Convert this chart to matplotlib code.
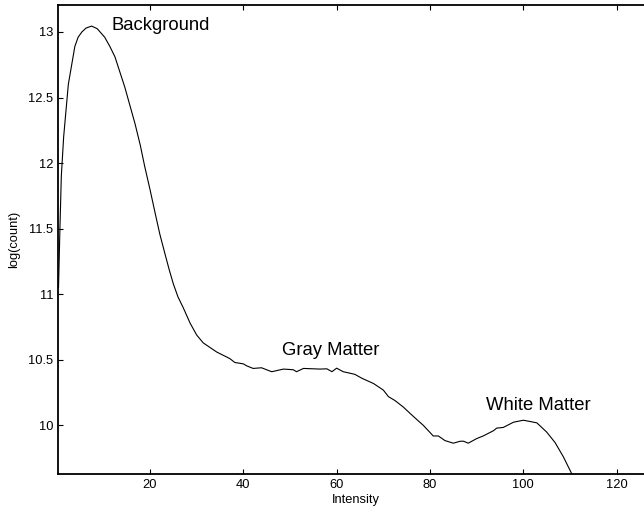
'''
Log intensity histogram of a brain MR image with tissue class labels
'''
import matplotlib
matplotlib.use("Agg")
import matplotlib.pyplot as plt
from matplotlib.ticker import FuncFormatter

# intensity values
intensity = [0.4, 0.7, 1.0, 1.5, 2.5, 3.9, 4.6, 5.4, 6.3, 7.5, 8.7, 10.3,
             11.4, 12.5, 13.5, 14.6, 15.7, 16.8, 17.9, 18.9, 20.0, 21.1, 22.1,
             23.2, 24.1, 25.0, 26.0, 27.1, 28.6, 30.0, 31.4, 34.3, 37.1, 38.2,
             40.0, 40.7, 42.1, 43.9, 45.7, 46.1, 48.6, 50.7, 51.4, 52.9, 56.4,
             57.9, 59.0, 60.0, 61.4, 63.9, 65.4, 67.9, 70.0, 71.1, 72.5, 74.3,
             76.1, 78.6, 80.7, 81.8, 83.2, 85.0, 86.5, 87.2, 88.2, 90.0, 91.4,
             93.6, 94.3, 95.7, 97.9, 100.0, 101.5, 102.9, 105.0, 106.8, 108.6,
             110.4, 112.0]
log_count = [11.05, 11.5, 11.9, 12.2, 12.6, 12.89, 12.96, 13.0, 13.03, 13.045,
             13.025, 12.96, 12.89, 12.81, 12.70, 12.58, 12.44, 12.30, 12.14,
             11.97, 11.80, 11.62, 11.46, 11.31, 11.19, 11.08, 10.98, 10.90,
             10.78, 10.69, 10.63, 10.56, 10.51, 10.48, 10.47, 10.455, 10.435,
             10.44, 10.415, 10.41, 10.43, 10.425, 10.41, 10.435, 10.43, 10.432,
             10.41, 10.437, 10.41, 10.39, 10.36, 10.32, 10.27, 10.22, 10.19,
             10.14, 10.08, 10.0, 9.92, 9.92, 9.885, 9.865, 9.88, 9.88, 9.865,
             9.90, 9.92, 9.96, 9.98, 9.985, 10.025, 10.04, 10.03, 10.02, 9.95,
             9.87, 9.76, 9.63, 9.45]

# labels for the three peaks
peak_names = ["Background", "Gray Matter", "White Matter"]
peak_x = [11.8, 48.2, 92.0]
peak_y = [13.05, 10.57, 10.15]

x_ticks = [20, 40, 60, 80, 100, 120]
y_ticks = [10, 10.5, 11, 11.5, 12, 12.5, 13]

plt.rcParams['font.family'] = ['Liberation Sans', 'DejaVu Sans']

fig = plt.figure(figsize=(6.44, 5.12), dpi=100)
ax = fig.add_axes([0.0905, 0.0742, 0.925, 0.9166])

ax.plot(intensity, log_count, color='black', linewidth=0.8)

for name, tx, ty in zip(peak_names, peak_x, peak_y):
    ax.text(tx, ty, name, fontsize=13.3, ha='left', va='center')

ax.set_xlim(0.35, 128)
ax.set_ylim(9.63, 13.208)
ax.set_xticks(x_ticks)
ax.set_yticks(y_ticks)
ax.yaxis.set_major_formatter(FuncFormatter(lambda v, p: '%g' % v))
ax.tick_params(direction='in', length=3.6, width=0.8, top=True, right=True,
               labelsize=9.3, colors='black', pad=3.5)
for side in ax.spines.values():
    side.set_linewidth(1.3)

ax.set_xlabel("Intensity", fontsize=9.3, labelpad=2.5)
ax.set_ylabel("log(count)", fontsize=9.3, labelpad=6)

fig.savefig("out.png", dpi=100)
